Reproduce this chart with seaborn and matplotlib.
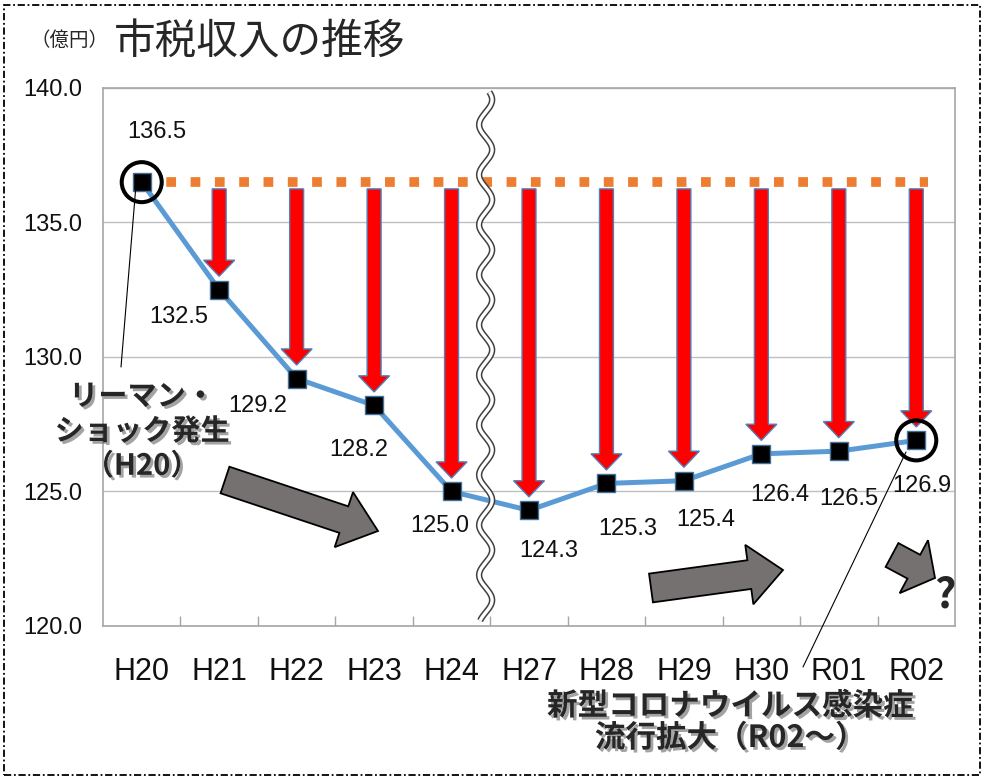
import numpy as np
import pandas as pd
import matplotlib
matplotlib.use('Agg')
import matplotlib.pyplot as plt
import matplotlib.patheffects as pe
from matplotlib.patches import FancyArrow, Polygon, Rectangle
from matplotlib.lines import Line2D
import seaborn as sns

# ---------------- data ----------------
years = ['H20', 'H21', 'H22', 'H23', 'H24', 'H27', 'H28', 'H29', 'H30', 'R01', 'R02']
revenue = [136.5, 132.5, 129.2, 128.2, 125.0, 124.3, 125.3, 125.4, 126.4, 126.5, 126.9]
yticks = [120, 125, 130, 135, 140]
highlight_idx = [0, 10]
title = '市税収入の推移'
unit = '（億円）'
note_lehman = 'リーマン・\nショック発生\n（H20）'
note_corona = '新型コロナウイルス感染症\n流行拡大（R02～）'

# label offsets in pixels (dx, dy up)
label_offsets = [(15, 50), (-40, -27), (-39, -27), (-15, -45), (-12, -35), (20, -41),
                 (21, -46), (22, -39), (18, -41), (10, -48), (6, -46)]

W, H = 986, 779
sns.set_theme(style='white')
plt.rcParams['font.family'] = ['Liberation Sans', 'Noto Sans CJK JP', 'DejaVu Sans']

fig = plt.figure(figsize=(W / 100, H / 100), dpi=100)
fig.patch.set_facecolor('white')
ax = fig.add_axes([103 / W, 1 - 626 / H, (955 - 103) / W, (626 - 88) / H])

df = pd.DataFrame({'pos': np.arange(len(years)), 'rev': revenue})

# reference (orange dotted) line at first year's level
ax.plot([0, len(years) - 1 + 0.15], [revenue[0], revenue[0]], color='#ED7D31', lw=7,
        linestyle=(0, (1, 1.5)), dash_capstyle='butt', zorder=4)

sns.lineplot(data=df, x='pos', y='rev', ax=ax, color='#5B9BD5', lw=3.6, marker='s',
             markersize=13, markerfacecolor='black', markeredgecolor='#41719C',
             markeredgewidth=1, zorder=5)

# red drop arrows
top = revenue[0] - 0.25
for i, v in enumerate(revenue):
    if i == 0:
        continue
    tip = v + 0.5
    ax.add_patch(FancyArrow(i, top, 0, tip - top, width=0.18, head_width=0.40,
                            head_length=0.6, length_includes_head=True,
                            fc='#FF0000', ec='#4F81BD', lw=1, zorder=6))

# highlight circles
ax.scatter([highlight_idx[0], highlight_idx[1]],
           [revenue[highlight_idx[0]], revenue[highlight_idx[1]]],
           s=830, facecolors='none', edgecolors='black', linewidths=2.9, zorder=7)

# data labels
for i, (v, (dx, dy)) in enumerate(zip(revenue, label_offsets)):
    ax.annotate(f'{v:.1f}', (i, v), xytext=(dx, dy), textcoords='offset pixels',
                ha='center', va='center', fontsize=17, color='#111111', zorder=9)

# wavy axis-break line between H24 and H27
wy = np.linspace(120.2, 139.85, 1500)
wx = 4.44 + 0.084 * np.sin(2 * np.pi * (139.85 - wy) / 1.86 + 0.6)
ax.plot(wx, wy, color='#404040', lw=4.6, zorder=8, solid_capstyle='butt')
ax.plot(wx, wy, color='white', lw=2.4, zorder=8.1, solid_capstyle='butt')

# axes styling
ax.set_xlim(-0.5, len(years) - 0.5)
ax.set_ylim(yticks[0], yticks[-1])
ax.set_yticks(yticks, [f'{v:.1f}' for v in yticks])
ax.set_xticks(range(len(years)), years)
ax.set_xticks(np.arange(0.5, len(years) - 0.5, 1), minor=True)
ax.tick_params(axis='y', length=0, pad=15, labelsize=17, labelcolor='#111111')
ax.tick_params(axis='x', which='major', length=0, pad=22, labelsize=22, labelcolor='#111111')
ax.tick_params(axis='x', which='minor', direction='in', length=7, width=1, color='#A6A6A6',
               bottom=True)
ax.yaxis.grid(True, color='#BFBFBF', lw=1)
ax.set_axisbelow(True)
for s in ax.spines.values():
    s.set_color('#A6A6A6')
    s.set_linewidth(1.2)
ax.set_xlabel('')
ax.set_ylabel('')


# ---------------- decorations (figure pixel coords) ----------------
def fpt(x, y):
    return (x / W, 1 - y / H)


def block_arrow(tail, tip, w, hw, hl):
    t = np.array(tail, float)
    p = np.array(tip, float)
    d = p - t
    u = d / np.linalg.norm(d)
    n = np.array([-u[1], u[0]])
    b = p - u * hl
    pts = [t + n * w / 2, b + n * w / 2, b + n * hw / 2, p, b - n * hw / 2,
           b - n * w / 2, t - n * w / 2]
    return [fpt(x, y) for x, y in pts]


for tail, tip, w, hw, hl in [((225, 480), (378, 531), 28, 58, 36),
                             ((651, 588), (783, 570), 29, 60, 34),
                             ((892, 555), (935, 578), 27, 60, 24)]:
    fig.add_artist(Polygon(block_arrow(tail, tip, w, hw, hl), closed=True,
                           transform=fig.transFigure, fc='#767171', ec='black',
                           lw=1.3, zorder=10))

fig.text(*fpt(945, 596), '?', fontsize=30, fontweight='bold', ha='center', va='center',
         family=['Noto Sans CJK JP', 'DejaVu Sans'])

shadow = [pe.SimplePatchShadow(offset=(2, -2), shadow_rgbFace=(0.4, 0.4, 0.4), alpha=0.6),
          pe.Normal()]
fig.text(*fpt(142, 431), note_lehman, fontsize=21, fontweight='bold', ha='center',
         va='center', linespacing=1.2, family=['Noto Sans CJK JP', 'DejaVu Sans'],
         path_effects=shadow)
fig.text(*fpt(730, 722), note_corona, fontsize=22, fontweight='bold', ha='center',
         va='center', linespacing=1.0, family=['Noto Sans CJK JP', 'DejaVu Sans'],
         path_effects=shadow)

fig.add_artist(Line2D([136 / W, 121 / W], [1 - 185 / H, 1 - 367 / H],
                      transform=fig.transFigure, color='black', lw=0.8))
fig.add_artist(Line2D([906 / W, 803 / W], [1 - 452 / H, 1 - 667 / H],
                      transform=fig.transFigure, color='black', lw=0.8))

fig.text(*fpt(114, 43), title, fontsize=30, ha='left', va='center',
         family=['Noto Sans CJK JP', 'DejaVu Sans'])
fig.text(*fpt(30, 40), unit, fontsize=14, ha='left', va='center',
         family=['Noto Sans CJK JP', 'DejaVu Sans'])

fig.add_artist(Rectangle((4 / W, 4 / H), (980 - 4) / W, (775 - 5) / H, fill=False,
                         transform=fig.transFigure, ec='black', lw=1.3,
                         ls=(0, (4, 1.5, 1, 1.5))))

fig.savefig('out.png', dpi=100, facecolor='white')
